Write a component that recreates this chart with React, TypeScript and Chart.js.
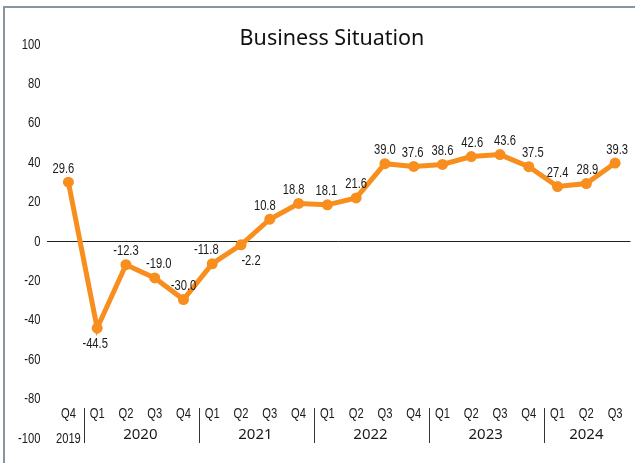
import React, { useEffect, useRef } from "react";
import { Chart, registerables } from "chart.js";

Chart.register(...registerables);

const TITLE = "Business Situation";
const QUARTERS = ["Q4", "Q1", "Q2", "Q3", "Q4", "Q1", "Q2", "Q3", "Q4", "Q1", "Q2", "Q3", "Q4", "Q1", "Q2", "Q3", "Q4", "Q1", "Q2", "Q3"];
const VALUES = [29.6, -44.5, -12.3, -19.0, -30.0, -11.8, -2.2, 10.8, 18.8, 18.1, 21.6, 39.0, 37.6, 38.6, 42.6, 43.6, 37.5, 27.4, 28.9, 39.3];
const YEARS = ["2019", "2020", "2021", "2022", "2023", "2024"];
const YEAR_QUARTER_COUNTS = [1, 4, 4, 4, 4, 3];
const Y_TICK_VALUES = [100, 80, 60, 40, 20, 0, -20, -40, -60, -80, -100];
const LABEL_BELOW = [false, true, false, false, false, false, true, false, false, false, false, false, false, false, false, false, false, false, false, false];
const LABEL_DX = [-5, -2, 0, 4, 0, -6, 10, -5, -5, -1, 0, 0, -1, 0, 1, 5, 4, 0, 1, 2];
const Y_MIN = -100;
const Y_MAX = 100;

const ORANGE = "#F78E1E";
const NARROW = "'Liberation Sans', Arimo, sans-serif";
const NARROW_SCALE = 0.8;
const WIDE = "'Noto Sans', 'Open Sans', sans-serif";

function narrowText(ctx: any, text: string, x: number, y: number, align: string) {
  ctx.save();
  ctx.translate(x, y);
  ctx.scale(NARROW_SCALE, 1);
  ctx.textAlign = align;
  ctx.textBaseline = "alphabetic";
  ctx.font = `14px ${NARROW}`;
  ctx.fillText(text, 0, 0);
  ctx.restore();
}

const overlayPlugin = {
  id: "overlay",
  beforeDatasetsDraw(chart: any) {
    const ctx = chart.ctx;
    const y = chart.scales.y;
    const zy = Math.round(y.getPixelForValue(0)) + 0.5;
    ctx.save();
    ctx.strokeStyle = "#222";
    ctx.lineWidth = 1;
    ctx.beginPath();
    ctx.moveTo(chart.chartArea.left - 7, zy);
    ctx.lineTo(chart.chartArea.right + 1, zy);
    ctx.stroke();
    ctx.restore();
  },
  afterDraw(chart: any) {
    const ctx = chart.ctx;
    const x = chart.scales.x;
    const y = chart.scales.y;
    ctx.save();
    // title
    ctx.fillStyle = "#111";
    ctx.font = `21.5px ${WIDE}`;
    ctx.textAlign = "center";
    ctx.textBaseline = "alphabetic";
    ctx.fillText(TITLE, 332, 45);

    ctx.fillStyle = "#1a1a1a";
    // y tick labels
    Y_TICK_VALUES.forEach((t) => {
      narrowText(ctx, String(t), 40.5, y.getPixelForValue(t) + 5, "right");
    });

    // data labels
    VALUES.forEach((v, i) => {
      const px = x.getPixelForValue(i) + LABEL_DX[i];
      const py = y.getPixelForValue(v) + (LABEL_BELOW[i] ? 20 : -9.5);
      narrowText(ctx, v.toFixed(1), px, py, "center");
    });

    // quarter labels
    QUARTERS.forEach((q, i) => {
      narrowText(ctx, q, x.getPixelForValue(i), 418.3, "center");
    });

    // year labels & separators
    let start = 0;
    ctx.strokeStyle = "#333";
    ctx.lineWidth = 1;
    YEARS.forEach((yr, k) => {
      const n = YEAR_QUARTER_COUNTS[k];
      const end = start + n - 1;
      const cx = (x.getPixelForValue(start) + x.getPixelForValue(end)) / 2;
      if (k === 0) {
        narrowText(ctx, yr, cx, 443.3, "center");
      } else {
        ctx.font = `15px ${WIDE}`;
        ctx.textAlign = "center";
        ctx.textBaseline = "alphabetic";
        ctx.fillText(yr, cx, 438.5);
      }
      if (k < YEARS.length - 1) {
        const sx = Math.round((x.getPixelForValue(end) + x.getPixelForValue(end + 1)) / 2) + 1.5;
        ctx.beginPath();
        ctx.moveTo(sx, 408);
        ctx.lineTo(sx, 443);
        ctx.stroke();
      }
      start += n;
    });
    ctx.restore();
  },
};

export default function App() {
  const ref = useRef<HTMLCanvasElement | null>(null);
  useEffect(() => {
    if (!ref.current) return;
    const chart = new Chart(ref.current, {
      type: "line",
      data: {
        labels: QUARTERS,
        datasets: [
          {
            data: VALUES,
            borderColor: ORANGE,
            backgroundColor: ORANGE,
            borderWidth: 5,
            pointRadius: 5.5,
            pointHoverRadius: 5.5,
            pointBackgroundColor: ORANGE,
            pointBorderColor: ORANGE,
            pointBorderWidth: 0,
            tension: 0,
            fill: false,
          },
        ],
      },
      options: {
        responsive: false,
        animation: false,
        devicePixelRatio: 1,
        layout: { padding: { top: 43.5, bottom: 25.5, left: 0, right: 4 } },
        plugins: { legend: { display: false }, title: { display: false }, tooltip: { enabled: false } },
        scales: {
          x: { display: false, offset: true },
          y: {
            min: Y_MIN,
            max: Y_MAX,
            afterFit: (s: any) => {
              s.width = 54;
            },
            ticks: { display: false, stepSize: 20 },
            grid: { display: false },
            border: { display: false },
          },
        },
      },
      plugins: [overlayPlugin],
    });
    return () => chart.destroy();
  }, []);

  return (
    <div style={{ position: "fixed", left: 0, top: 0, width: 635, height: 463, overflow: "hidden", background: "#fff" }}>
      <div
        style={{
          position: "absolute",
          left: 3,
          top: 6,
          width: 800,
          height: 800,
          borderTop: "2px solid #8894a0",
          borderLeft: "2px solid #8894a0",
        }}
      />
      <canvas ref={ref} width={635} height={463} style={{ position: "absolute", left: 0, top: 0, width: 635, height: 463 }} />
    </div>
  );
}
